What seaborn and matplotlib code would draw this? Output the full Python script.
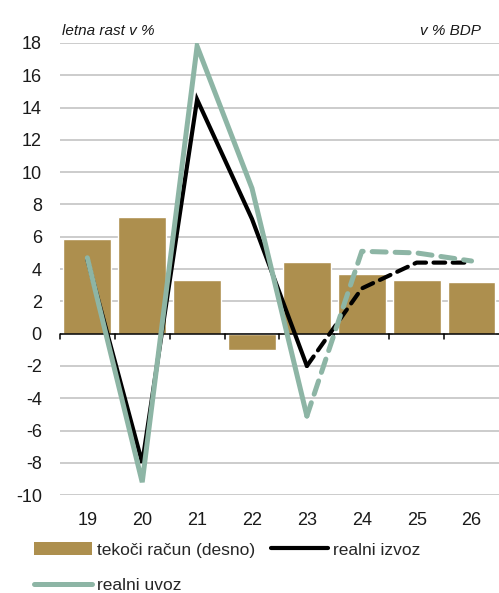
import numpy as np
import pandas as pd
import matplotlib
matplotlib.use("Agg")
import matplotlib.pyplot as plt
from matplotlib.patches import Patch
from matplotlib.lines import Line2D
import seaborn as sns

# data
years = ["19", "20", "21", "22", "23", "24", "25", "26"]
tekoci_racun = [5.85, 7.2, 3.3, -1.0, 4.45, 3.7, 3.3, 3.2]
realni_izvoz = [4.6, -8.0, 14.5, 7.1, -2.0, 2.8, 4.4, 4.4]
realni_uvoz = [4.7, -9.2, 17.8, 9.0, -5.1, 5.1, 5.0, 4.5]
n_actual = 5  # 19..23 solid, forecast dashed from 23 on

gold = "#AD8F4E"
green = "#8DB5A5"

sns.set_theme(style="white")
plt.rcParams["font.family"] = ["Liberation Sans", "DejaVu Sans"]
plt.rcParams["axes.unicode_minus"] = False

fig = plt.figure(figsize=(4.99, 5.93), dpi=100)
ax = fig.add_axes([0.12, 0.165, 0.88, 0.7625])

df = pd.DataFrame({"leto": years, "tr": tekoci_racun})
sns.barplot(data=df, x="leto", y="tr", color=gold, saturation=1, width=0.87,
            ax=ax, zorder=2)

pos = np.arange(len(years))
lines = pd.DataFrame({"pos": pos, "izvoz": realni_izvoz, "uvoz": realni_uvoz})
act = lines.iloc[:n_actual]
fc = lines.iloc[n_actual - 1:]

sns.lineplot(data=act, x="pos", y="izvoz", color="black", lw=3, ax=ax, zorder=3,
             solid_joinstyle="miter")
sns.lineplot(data=fc, x="pos", y="izvoz", color="black", lw=3, ax=ax, zorder=3,
             linestyle=(0, (2.8, 1.8)), dash_capstyle="round")
sns.lineplot(data=act, x="pos", y="uvoz", color=green, lw=3.6, ax=ax, zorder=4,
             solid_joinstyle="miter")
sns.lineplot(data=fc, x="pos", y="uvoz", color=green, lw=3.6, ax=ax, zorder=4,
             linestyle=(0, (2.8, 1.8)), dash_capstyle="round")

ax.set_ylim(-10, 18)
ax.set_xlim(-0.5, len(years) - 0.5)
ax.set_yticks(range(-10, 19, 2))
ax.yaxis.grid(True, color="#BFBFBF", lw=1.1)
ax.set_axisbelow(True)
for s in ax.spines.values():
    s.set_visible(False)
ax.set_xlabel("")
ax.set_ylabel("")
ax.tick_params(axis="both", length=0, labelsize=13, colors="#1a1a1a")
ax.tick_params(axis="x", pad=12)
ax.tick_params(axis="y", pad=13)

# zero line with category separator ticks
ax.axhline(0, color="black", lw=1.1, zorder=2.5)
for b in np.arange(-0.5, len(years) - 0.5, 1.0):
    ax.plot([b, b], [0, -0.35], color="black", lw=1.1, zorder=2.5,
            clip_on=False)

fig.text(0.125, 0.948, "letna rast v %", fontsize=11, style="italic",
         color="#1a1a1a", va="center")
fig.text(0.963, 0.948, "v % BDP", fontsize=11, style="italic",
         color="#1a1a1a", va="center", ha="right")

handles = [Patch(facecolor=gold, edgecolor="none"),
           Line2D([], [], color=green, lw=3.6, solid_capstyle="round"),
           Line2D([], [], color="black", lw=3, solid_capstyle="round")]
labels = ["tekoči račun (desno)", "realni uvoz", "realni izvoz"]
fig.legend(handles, labels, ncol=2, loc="upper left",
           bbox_to_anchor=(0.055, 0.098), frameon=False, fontsize=12.5,
           handlelength=3.3, handleheight=0.8, handletextpad=0.3,
           labelspacing=1.15, columnspacing=0.9, borderaxespad=0)

fig.savefig("out.png", dpi=100)
